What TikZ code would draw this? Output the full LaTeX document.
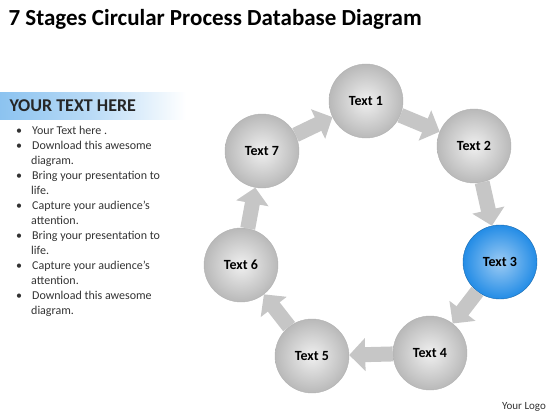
\documentclass[tikz,border=0pt]{standalone}
\usepackage{fontspec}
\setmainfont{Carlito}
\usepackage{tikz}
\usetikzlibrary{arrows.meta}
\usetikzlibrary{positioning}
\usepackage{xcolor}
\definecolor{stageblue}{RGB}{35,140,230}
\definecolor{bandblue}{RGB}{140,195,240}

\begin{document}
\begin{tikzpicture}[x=1pt,y=-1pt, stage/.style={circle, minimum size=74pt, inner sep=0pt, draw=gray!60, shading=radial,
 inner color=gray!12, outer color=gray!55, font=\fontsize{14}{16}\selectfont\bfseries},  hot/.style={stage, inner color=stageblue!45!white,
 outer color=stageblue, draw=stageblue!75!black},
flow/.style={draw=gray!45, line width=15pt, -{Triangle[width=32pt,length=16pt]}}]
\useasboundingbox (0,0) rectangle (560,420);
\node[anchor=west, font=\fontsize{23}{26}\selectfont\bfseries] (title) at (5,19) {7 Stages Circular Process Database Diagram};
% left text block
\shade[left color=bandblue, right color=white, middle color=bandblue!60] (0,93) rectangle (186,119);
\node[anchor=west, font=\fontsize{18}{20}\selectfont\bfseries, text=black!85] (head) at (6,106) {YOUR TEXT HERE};
\node[anchor=north west, inner sep=0pt, font=\fontsize{12}{15}\selectfont, text=black!80, align=left] (list) at (16,126)
 {\textbullet\hspace{10pt}Your Text here .\\ \textbullet\hspace{10pt}Download this awesome\\ \hspace{15pt}diagram.\\
  \textbullet\hspace{10pt}Bring your presentation to\\ \hspace{15pt}life.\\ \textbullet\hspace{10pt}Capture your audience’s\\
  \hspace{15pt}attention.\\ \textbullet\hspace{10pt}Bring your presentation to\\ \hspace{15pt}life.\\
  \textbullet\hspace{10pt}Capture your audience’s\\ \hspace{15pt}attention.\\ \textbullet\hspace{10pt}Download this awesome\\
  \hspace{15pt}diagram.};
% stages
\node[stage] (t1) at (366,101) {Text 1};
\node[stage] (t2) at (474,146) {Text 2};
\node[hot] (t3) at (500,262) {Text 3};
\node[stage] (t4) at (430,353) {Text 4};
\node[stage] (t5) at (312,356) {Text 5};
\node[stage] (t6) at (241,265) {Text 6};
\node[stage] (t7) at (262,151) {Text 7};
\draw[flow] (t7) -- (t1); \draw[flow] (t1) -- (t2); \draw[flow] (t2) -- (t3); \draw[flow] (t3) -- (t4);
\draw[flow] (t4) -- (t5); \draw[flow] (t5) -- (t6); \draw[flow] (t6) -- (t7);
\node[font=\fontsize{11}{13}\selectfont, text=black!80] (logo) at (524,407) {Your Logo};
\end{tikzpicture}
\end{document}
